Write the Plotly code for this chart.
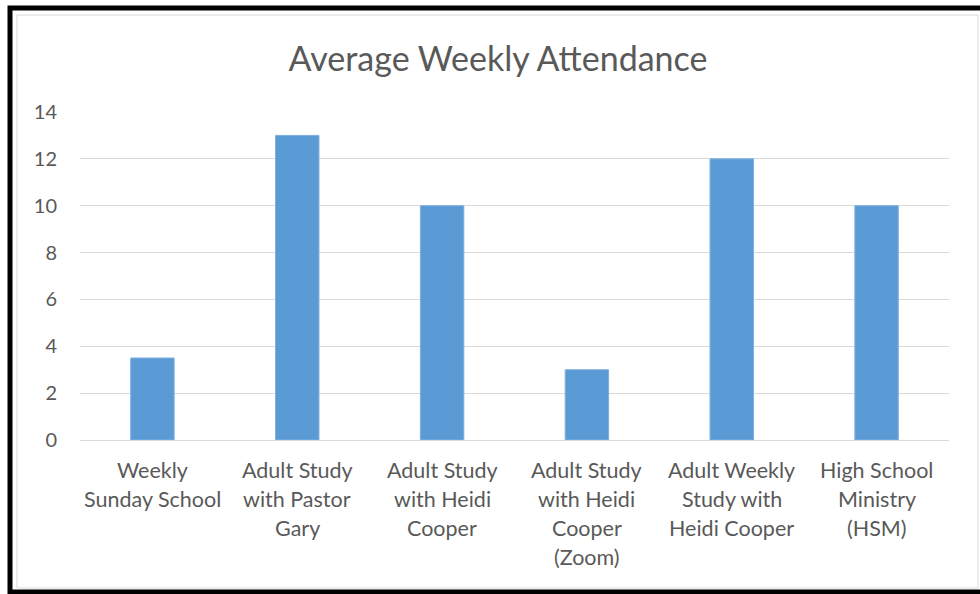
import plotly.graph_objects as go

categories = [
    "Weekly<br>Sunday School",
    "Adult Study<br>with Pastor<br>Gary",
    "Adult Study<br>with Heidi<br>Cooper",
    "Adult Study<br>with Heidi<br>Cooper<br>(Zoom)",
    "Adult Weekly<br>Study with<br>Heidi Cooper",
    "High School<br>Ministry<br>(HSM)",
]
attendance = [3.5, 13, 10, 3, 12, 10]
y_ticks = [0, 2, 4, 6, 8, 10, 12, 14]

W, H = 980, 594
L, R, T, B = 80, 31, 112, 154
pw, ph = W - L - R, H - T - B

def px(x):
    return (x - L) / pw

def py(y):
    return (H - B - y) / ph

TEXT = "#595959"
FONT = "Lato, Carlito, 'Liberation Sans', sans-serif"

fig = go.Figure(
    go.Bar(
        x=list(range(len(categories))),
        y=attendance,
        width=0.3,
        marker=dict(color="#5B9BD5", line=dict(color="#7EB0DE", width=1)),
    )
)

annotations = []
line_gap = 29
for i, cat in enumerate(categories):
    for j, line in enumerate(cat.split("<br>")):
        annotations.append(dict(
            x=i, xref="x", y=0, yref="y",
            yanchor="middle", xanchor="center",
            yshift=-(30 + j * line_gap),
            text=line, showarrow=False,
            font=dict(family=FONT, size=21.5, color=TEXT),
        ))

shapes = [
    # outer black frame
    dict(type="rect", xref="paper", yref="paper",
         x0=px(10), x1=px(990), y0=py(8), y1=py(592),
         line=dict(color="black", width=5), layer="below"),
    # inner light frame
    dict(type="rect", xref="paper", yref="paper",
         x0=px(17), x1=px(978), y0=py(15), y1=py(588),
         line=dict(color="#D9D9D9", width=1), layer="below"),
]

fig.update_layout(
    width=W, height=H,
    margin=dict(l=L, r=R, t=T, b=B),
    paper_bgcolor="white", plot_bgcolor="white",
    title=dict(text="Average Weekly Attendance", x=498 / W, xanchor="center",
               y=1 - 59 / H, yanchor="middle",
               font=dict(family=FONT, size=34, color=TEXT)),
    xaxis=dict(range=[-0.5, len(categories) - 0.5], showticklabels=False,
               showgrid=False, zeroline=False, showline=False, ticks=""),
    yaxis=dict(range=[0, 14], tickvals=y_ticks, showgrid=True, gridcolor="#D9D9D9",
               gridwidth=1, zeroline=True, zerolinecolor="#D9D9D9", zerolinewidth=1,
               showline=False, ticks="", ticklabelstandoff=22,
               tickfont=dict(family=FONT, size=20, color=TEXT)),
    annotations=annotations,
    shapes=shapes,
    showlegend=False,
    bargap=0.7,
)

fig.write_html("out.html", config={"displayModeBar": False},
               post_script="document.body.style.margin='0';")
